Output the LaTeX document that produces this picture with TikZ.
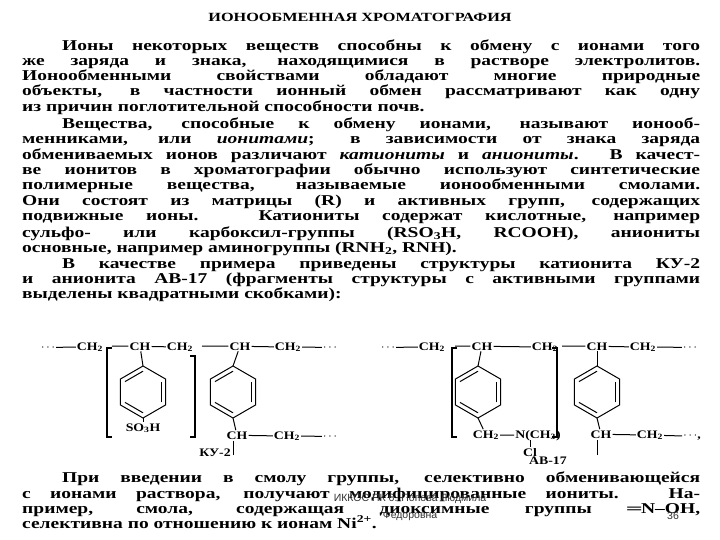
\documentclass[tikz,border=0pt]{standalone}
\usepackage{fontspec}
\usetikzlibrary{calc}
\setmainfont{Liberation Serif}[FakeStretch=1.3]
\newfontfamily\ovl{Liberation Sans}
\newfontfamily\chf{Liberation Serif}[FakeStretch=1.2]
\newcommand{\sbs}[1]{\textsubscript{#1}}
\begin{document}
\begin{tikzpicture}[x=1pt,y=-1pt,
  ln/.style={anchor=base west,inner sep=0pt,font=\fontsize{15}{15}\selectfont\bfseries},
  ch/.style={anchor=base,inner sep=1pt,font=\chf\fontsize{11.5}{12}\selectfont\bfseries},
  bond/.style={line width=1pt},
  ovt/.style={inner sep=0pt,font=\ovl\fontsize{10.5}{10}\selectfont,text=black!80}]
\useasboundingbox (0,0) rectangle (720,540);
\node[anchor=base,inner sep=0pt,font=\fontsize{12.5}{12}\selectfont\bfseries] (t) at (360,22) {ИОНООБМЕННАЯ ХРОМАТОГРАФИЯ};
\newcommand{\jl}[4]{\node[ln] (#1) at (#2,#3) {\makebox[\dimexpr700pt-#2pt\relax][s]{#4}};}
\newcommand{\nl}[4]{\node[ln] (#1) at (#2,#3) {#4};}
\jl{a1}{62}{51}{Ионы некоторых веществ способны к обмену с ионами того}
\jl{a2}{22}{66}{же заряда и знака, находящимися в растворе электролитов.}
\jl{a3}{22}{81}{Ионообменными свойствами обладают многие природные}
\jl{a4}{22}{96}{объекты, в частности ионный обмен рассматривают как одну}
\nl{a5}{22}{112}{из причин поглотительной способности почв.}
\jl{b1}{62}{129}{Вещества, способные к обмену ионами, называют ионооб-}
\jl{b2}{22}{144}{менниками, или \textit{ионитами}; в зависимости от знака заряда}
\jl{b3}{22}{160}{обмениваемых ионов различают \textit{катиониты} и \textit{аниониты}. В качест-}
\jl{b4}{22}{175}{ве ионитов в хроматографии обычно используют синтетические}
\jl{b5}{22}{190}{полимерные вещества, называемые ионообменными смолами.}
\jl{b6}{22}{206}{Они состоят из матрицы (R) и активных групп, содержащих}
\jl{b7}{22}{221}{подвижные ионы. Катиониты содержат кислотные, например}
\jl{b8}{22}{237}{сульфо- или карбоксил-группы (RSO\sbs{3}H, RCOOH), аниониты}
\nl{b9}{22}{252}{основные, например аминогруппы (RNH\sbs{2}, RNH).}
\jl{c1}{62}{268}{В качестве примера приведены структуры катионита КУ-2}
\jl{c2}{22}{283}{и анионита АВ-17 (фрагменты структуры с активными группами}
\nl{c3}{22}{298}{выделены квадратными скобками):}
\jl{d1}{62}{482}{При введении в смолу группы, селективно обменивающейся}
\jl{d2}{22}{498}{с ионами раствора, получают модифицированные иониты. На-}
\jl{d3}{22}{513}{пример, смола, содержащая диоксимные группы ═N–OH,}
\nl{d4}{22}{528}{селективна по отношению к ионам Ni\textsuperscript{2+}.}
% overlay
\node[ovt] (o1) at (410,499) {ИККОС ПК 6. Попова Людмила};
\node[ovt] (o2) at (410,516) {Федоровна};
\node[ovt] (o3) at (673,516) {36};
% ring macro
\newcommand{\ring}[3]{%
 \foreach \i in {0,...,5}{\coordinate (#1\i) at ($(#2,#3)+(-90-60*\i:26)$);}
 \draw[bond] (#10)--(#11)--(#12)--(#13)--(#14)--(#15)--cycle;
 \draw[bond] ($(#10)!0.2!(#2,#3)$)--($(#11)!0.2!(#2,#3)$);
 \draw[bond] ($(#12)!0.2!(#2,#3)$)--($(#13)!0.2!(#2,#3)$);
 \draw[bond] ($(#14)!0.2!(#2,#3)$)--($(#15)!0.2!(#2,#3)$);}
% ---- KU-2
\node[ch] (k0) at (48,350) {$\cdots$};
\node[ch] (k1) at (90,350) {CH\sbs{2}};
\node[ch] (k2) at (140,350) {CH};
\node[ch] (k3) at (180,350) {CH\sbs{2}};
\node[ch] (k4) at (240,350) {CH};
\node[ch] (k5) at (288,350) {CH\sbs{2}};
\node[ch] (k6) at (330,350) {$\cdots$};
\draw[bond] (k0)--(k1); \draw[bond] (112,346)--(k2); \draw[bond] (k2)--(k3);
\draw[bond] (202,346)--(k4); \draw[bond] (k4)--(k5); \draw[bond] (k5)--(k6);
\draw[line width=1.2pt] (112,348)--(107,348)--(107,437)--(112,437);
\draw[line width=1.2pt] (190,356)--(195,356)--(195,437)--(190,437);
\ring{r}{143}{392}
\draw[bond] (k2)--(r0);
\node[ch] (s) at (143,431) {SO\sbs{3}H};
\draw[bond] (r3)--(s);
\ring{q}{233}{392}
\draw[bond] (k4)--(q0);
\node[ch] (k7) at (237,439) {CH};
\node[ch] (k8) at (287,439) {CH\sbs{2}};
\node[ch] (k9) at (330,439) {$\cdots$};
\draw[bond] (q3)--(k7); \draw[bond] (k7)--(k8); \draw[bond] (k8)--(k9);
\draw[bond] (233,441)--(233,455);
\node[ch] (ku) at (215,456) {КУ-2};
% ---- AV-17
\node[ch] (v0) at (388,350) {$\cdots$};
\node[ch] (v1) at (432,350) {CH\sbs{2}};
\node[ch] (v2) at (482,350) {CH};
\node[ch] (v3) at (545,350) {CH\sbs{2}};
\node[ch] (v4) at (597,350) {CH};
\node[ch] (v5) at (643,350) {CH\sbs{2}};
\node[ch] (v6) at (690,350) {$\cdots$};
\draw[bond] (v0)--(v1); \draw[bond] (455,346)--(v2); \draw[bond] (v2)--(v3);
\draw[bond] (562,346)--(v4); \draw[bond] (v4)--(v5); \draw[bond] (v5)--(v6);
\draw[line width=1.2pt] (457,348)--(452,348)--(452,437)--(457,437);
\draw[line width=1.2pt] (552,348)--(557,348)--(557,437)--(552,437);
\ring{u}{478}{392}
\draw[bond] (v2)--(u0);
\node[ch] (n1) at (486,438) {CH\sbs{2}};
\node[ch] (n2) at (538,438) {N(CH\sbs{3})};
\node[ch] (cl) at (530,456) {Cl};
\draw[bond] (u3)--(n1); \draw[bond] (n1)--(n2); \draw[bond] (530,440)--(cl);
\ring{w}{597}{392}
\draw[bond] (v4)--(w0);
\node[ch] (v7) at (601,438) {CH};
\node[ch] (v8) at (650,438) {CH\sbs{2}};
\node[ch] (v9) at (692,438) {$\cdots$,};
\draw[bond] (w3)--(v7); \draw[bond] (v7)--(v8); \draw[bond] (v8)--(v9);
\draw[bond] (597,440)--(597,455);
\node[ch] (av) at (548,464) {АВ-17};
\end{tikzpicture}
\end{document}
